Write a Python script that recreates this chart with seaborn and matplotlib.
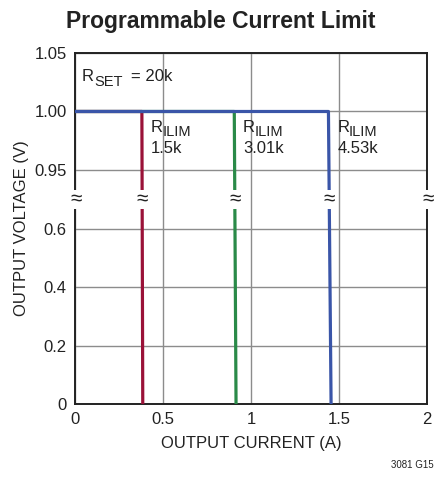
import numpy as np
import pandas as pd
import seaborn as sns
import matplotlib.pyplot as plt
from matplotlib.scale import FuncScale

# Curve data
labels = ["1.5k", "3.01k", "4.53k"]
curr_knee = [0.38, 0.905, 1.44]     # current where the output starts to fold back
curr_floor = [0.385, 0.915, 1.455]  # current at 0 V
v_set = 1.00

colors = ["#9a1238", "#2a8a48", "#3a55a8"]

x_ticks = [0, 0.5, 1, 1.5, 2]
x_labels = ["0", "0.5", "1", "1.5", "2"]
y_ticks = [0, 0.2, 0.4, 0.6, 0.95, 1.00, 1.05]
y_labels = ["0", "0.2", "0.4", "0.6", "0.95", "1.00", "1.05"]

rows = []
for lab, k, f in zip(labels, curr_knee, curr_floor):
    rows += [(lab, 0.0, v_set), (lab, k, v_set), (lab, f, 0.0)]
df = pd.DataFrame(rows, columns=["rilim", "current", "voltage"])

sns.set_style("white")
plt.rcParams["font.family"] = ["Liberation Sans", "DejaVu Sans"]

# broken y axis: 0..0.7 at 0.2 per row, 0.925..1.05 at 0.05 per row
EPS = 0.001


def fwd(v):
    v = np.asarray(v, dtype=float)
    return np.where(v <= 0.7, v / 0.2,
                    np.where(v >= 0.925, 3.5 + EPS + (v - 0.925) / 0.05,
                             3.5 + (v - 0.7) / 0.225 * EPS))


def inv(t):
    t = np.asarray(t, dtype=float)
    return np.where(t <= 3.5, t * 0.2,
                    np.where(t >= 3.5 + EPS, 0.925 + (t - 3.5 - EPS) * 0.05,
                             0.7 + (t - 3.5) / EPS * 0.225))


fig = plt.figure(figsize=(4.41, 4.87), dpi=100)
ax = fig.add_axes([75 / 441, 83 / 487, 352 / 441, 351 / 487])
ax.set_yscale(FuncScale(ax.yaxis, (fwd, inv)))

sns.lineplot(data=df, x="current", y="voltage", hue="rilim", palette=colors,
             sort=False, estimator=None, linewidth=2.3, legend=False, ax=ax, zorder=3)

ax.set_xlim(0, 2)
ax.set_ylim(0, 1.05)
ax.set_xticks(x_ticks, x_labels)
ax.set_yticks(y_ticks, y_labels)
ax.tick_params(length=0, labelsize=12, pad=6, colors="#222222")
ax.grid(True, color="#8c8c8c", linewidth=1.0)
for s in ax.spines.values():
    s.set_color("#222222")
    s.set_linewidth(1.4)

ax.set_xlabel("OUTPUT CURRENT (A)", fontsize=12, color="#222222", labelpad=6)
ax.set_ylabel("OUTPUT VOLTAGE (V)", fontsize=12, color="#222222", labelpad=4)

# break marks
ybreak = 3.5 / (6 + EPS)
for xb in [0] + curr_knee + [2]:
    ax.text(xb + 0.004, ybreak, "\u2248", transform=ax.get_xaxis_transform(),
            ha="center", va="center", fontsize=15, color="#222222", clip_on=False,
            zorder=5, bbox=dict(boxstyle="square,pad=0.0", fc="white", ec="none"))

txt = "#222222"


def sub_label(x, y, main, sub, below=None):
    ax.annotate(main, (x, y), fontsize=12, va="top", color=txt)
    ax.annotate(sub, (x, y), xytext=(8.5, -4), textcoords="offset points",
                fontsize=10.5, va="top", color=txt)
    if below:
        ax.annotate(below, (x, y), xytext=(0, -15), textcoords="offset points",
                    fontsize=12, va="top", color=txt)


sub_label(0.04, 1.036, "R", "SET")
ax.annotate("= 20k", (0.04, 1.036), xytext=(35, 0), textcoords="offset points",
            fontsize=12, va="top", color=txt)
for lab, k in zip(labels, curr_knee):
    sub_label(k + 0.05, 0.993, "R", "ILIM", lab)

fig.text(0.5, 0.955, "Programmable Current Limit", ha="center", va="center",
         fontsize=16.5, fontweight="bold", color=txt)
fig.text(0.935, 0.045, "3081 G15", ha="center", va="center", fontsize=7, color=txt)

fig.savefig("out.png", dpi=100)
